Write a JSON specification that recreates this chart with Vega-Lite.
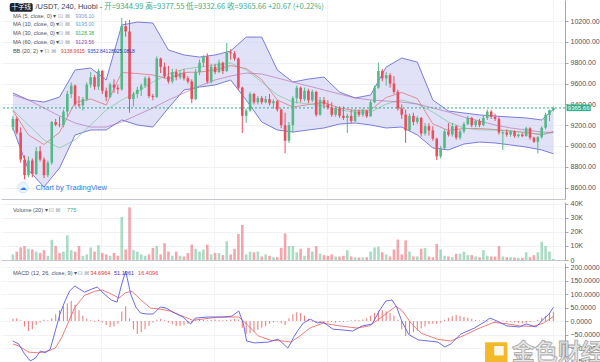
{
"$schema":"https://vega.github.io/schema/vega-lite/v6.json",
"padding":0,
"spacing":0,
"background":"white",
"config":{"view":{"stroke":null},"axis":{"labelFont":"Liberation Sans","labelFontSize":7,"labelColor":"#4c525e","domainColor":"#a3a6af","tickColor":"#a3a6af","tickSize":3,"labelPadding":2,"gridColor":"#f0f2f7","title":null,"labelOverlap":false},"text":{"font":"Liberation Sans"}},
"datasets":{
"k":[
{"i":0,"o":9180,"h":9290,"l":9150,"c":9260,"v":4000,"g":8},
{"i":1,"o":9260,"h":9280,"l":9110,"c":9130,"v":6000,"g":10},
{"i":2,"o":9130,"h":9180,"l":8840,"c":8870,"v":9000,"g":3},
{"i":3,"o":8870,"h":8910,"l":8680,"c":8720,"v":10000,"g":-20},
{"i":4,"o":8720,"h":8900,"l":8700,"c":8860,"v":8000,"g":-37},
{"i":5,"o":8860,"h":8880,"l":8700,"c":8730,"v":7500,"g":-30},
{"i":6,"o":8730,"h":8990,"l":8720,"c":8950,"v":6000,"g":-15},
{"i":7,"o":8950,"h":9000,"l":8850,"c":8870,"v":5000,"g":-5},
{"i":8,"o":8870,"h":8890,"l":8690,"c":8720,"v":7000,"g":5},
{"i":9,"o":8720,"h":8860,"l":8700,"c":8840,"v":3000,"g":3},
{"i":10,"o":8840,"h":9240,"l":8820,"c":9230,"v":14500,"g":10},
{"i":11,"o":9230,"h":9260,"l":9190,"c":9205,"v":10000,"g":25},
{"i":12,"o":9205,"h":9280,"l":9180,"c":9200,"v":5000,"g":40},
{"i":13,"o":9200,"h":9350,"l":9180,"c":9330,"v":6000,"g":55},
{"i":14,"o":9330,"h":9530,"l":9280,"c":9500,"v":17600,"g":65},
{"i":15,"o":9500,"h":9610,"l":9460,"c":9580,"v":7000,"g":74},
{"i":16,"o":9580,"h":9590,"l":9380,"c":9400,"v":6000,"g":60},
{"i":17,"o":9400,"h":9480,"l":9370,"c":9390,"v":10000,"g":40},
{"i":18,"o":9390,"h":9470,"l":9340,"c":9450,"v":3000,"g":20},
{"i":19,"o":9450,"h":9610,"l":9430,"c":9590,"v":4000,"g":8},
{"i":20,"o":9590,"h":9710,"l":9560,"c":9660,"v":9000,"g":3},
{"i":21,"o":9660,"h":9680,"l":9540,"c":9570,"v":6000,"g":-3},
{"i":22,"o":9570,"h":9740,"l":9540,"c":9720,"v":10500,"g":5},
{"i":23,"o":9720,"h":9730,"l":9500,"c":9530,"v":5000,"g":-5},
{"i":24,"o":9530,"h":9560,"l":9430,"c":9470,"v":4000,"g":-15},
{"i":25,"o":9470,"h":9610,"l":9460,"c":9590,"v":3000,"g":-22},
{"i":26,"o":9590,"h":9640,"l":9510,"c":9560,"v":5000,"g":-20},
{"i":27,"o":9560,"h":9590,"l":9500,"c":9545,"v":3000,"g":-10},
{"i":28,"o":9545,"h":10230,"l":9530,"c":10150,"v":30600,"g":35},
{"i":29,"o":10150,"h":10200,"l":10050,"c":10100,"v":7500,"g":55},
{"i":30,"o":10100,"h":10210,"l":9320,"c":9450,"v":37600,"g":10},
{"i":31,"o":9450,"h":9520,"l":9380,"c":9500,"v":7000,"g":-30},
{"i":32,"o":9500,"h":9570,"l":9460,"c":9540,"v":6000,"g":-48},
{"i":33,"o":9540,"h":9600,"l":9480,"c":9580,"v":4000,"g":-42},
{"i":34,"o":9580,"h":9670,"l":9560,"c":9650,"v":3000,"g":-30},
{"i":35,"o":9650,"h":9670,"l":9460,"c":9480,"v":4000,"g":-18},
{"i":36,"o":9480,"h":9500,"l":9440,"c":9470,"v":8700,"g":-5},
{"i":37,"o":9470,"h":9860,"l":9460,"c":9840,"v":10000,"g":5},
{"i":38,"o":9840,"h":9850,"l":9700,"c":9760,"v":4000,"g":8},
{"i":39,"o":9760,"h":9800,"l":9650,"c":9670,"v":12000,"g":3},
{"i":40,"o":9670,"h":9770,"l":9600,"c":9620,"v":6000,"g":-5},
{"i":41,"o":9620,"h":9740,"l":9600,"c":9710,"v":3000,"g":-12},
{"i":42,"o":9710,"h":9740,"l":9630,"c":9660,"v":6000,"g":-18},
{"i":43,"o":9660,"h":9730,"l":9640,"c":9700,"v":3000,"g":-18},
{"i":44,"o":9700,"h":9740,"l":9630,"c":9650,"v":2500,"g":-15},
{"i":45,"o":9650,"h":9670,"l":9600,"c":9620,"v":5000,"g":-10},
{"i":46,"o":9620,"h":9640,"l":9410,"c":9450,"v":11000,"g":-5},
{"i":47,"o":9450,"h":9740,"l":9440,"c":9710,"v":8000,"g":5},
{"i":48,"o":9710,"h":9830,"l":9680,"c":9800,"v":6000,"g":8},
{"i":49,"o":9800,"h":9870,"l":9760,"c":9860,"v":7500,"g":5},
{"i":50,"o":9860,"h":9890,"l":9600,"c":9620,"v":11000,"g":3},
{"i":51,"o":9620,"h":9790,"l":9600,"c":9760,"v":4000,"g":4},
{"i":52,"o":9760,"h":9790,"l":9690,"c":9710,"v":5000,"g":6},
{"i":53,"o":9710,"h":9830,"l":9700,"c":9800,"v":5000,"g":5},
{"i":54,"o":9800,"h":9810,"l":9690,"c":9720,"v":3500,"g":3},
{"i":55,"o":9720,"h":9990,"l":9710,"c":9900,"v":13400,"g":4},
{"i":56,"o":9900,"h":9930,"l":9830,"c":9890,"v":4000,"g":6},
{"i":57,"o":9890,"h":9910,"l":9820,"c":9840,"v":8000,"g":8},
{"i":58,"o":9840,"h":9850,"l":9540,"c":9560,"v":18600,"g":5},
{"i":59,"o":9560,"h":9570,"l":9125,"c":9290,"v":25000,"g":-25},
{"i":60,"o":9290,"h":9360,"l":9220,"c":9340,"v":4000,"g":-48},
{"i":61,"o":9340,"h":9520,"l":9330,"c":9500,"v":6000,"g":-45},
{"i":62,"o":9500,"h":9510,"l":9400,"c":9420,"v":5500,"g":-40},
{"i":63,"o":9420,"h":9480,"l":9400,"c":9460,"v":6000,"g":-32},
{"i":64,"o":9460,"h":9480,"l":9400,"c":9420,"v":2500,"g":-25},
{"i":65,"o":9420,"h":9480,"l":9410,"c":9450,"v":4000,"g":-18},
{"i":66,"o":9450,"h":9500,"l":9390,"c":9410,"v":3000,"g":-10},
{"i":67,"o":9410,"h":9450,"l":9360,"c":9430,"v":2000,"g":-5},
{"i":68,"o":9430,"h":9440,"l":9330,"c":9350,"v":2000,"g":-3},
{"i":69,"o":9350,"h":9360,"l":9170,"c":9200,"v":8700,"g":-8},
{"i":70,"o":9200,"h":9320,"l":8930,"c":9050,"v":19000,"g":-15},
{"i":71,"o":9050,"h":9230,"l":9030,"c":9200,"v":10000,"g":10},
{"i":72,"o":9200,"h":9480,"l":9130,"c":9460,"v":10000,"g":25},
{"i":73,"o":9460,"h":9580,"l":9410,"c":9560,"v":5500,"g":33},
{"i":74,"o":9560,"h":9570,"l":9420,"c":9450,"v":8000,"g":30},
{"i":75,"o":9450,"h":9560,"l":9430,"c":9530,"v":3000,"g":20},
{"i":76,"o":9530,"h":9550,"l":9410,"c":9440,"v":8700,"g":8},
{"i":77,"o":9440,"h":9540,"l":9420,"c":9520,"v":6000,"g":-3},
{"i":78,"o":9520,"h":9530,"l":9280,"c":9300,"v":10000,"g":-5},
{"i":79,"o":9300,"h":9470,"l":9290,"c":9440,"v":4500,"g":-5},
{"i":80,"o":9440,"h":9470,"l":9370,"c":9400,"v":3500,"g":-6},
{"i":81,"o":9400,"h":9440,"l":9350,"c":9370,"v":3000,"g":-5},
{"i":82,"o":9370,"h":9420,"l":9280,"c":9300,"v":4000,"g":-4},
{"i":83,"o":9300,"h":9380,"l":9280,"c":9360,"v":2500,"g":-5},
{"i":84,"o":9360,"h":9380,"l":9270,"c":9290,"v":2500,"g":-3},
{"i":85,"o":9290,"h":9380,"l":9250,"c":9270,"v":3000,"g":-4},
{"i":86,"o":9270,"h":9310,"l":9125,"c":9290,"v":7000,"g":-3},
{"i":87,"o":9290,"h":9350,"l":9220,"c":9240,"v":2500,"g":3},
{"i":88,"o":9240,"h":9360,"l":9230,"c":9330,"v":2000,"g":5},
{"i":89,"o":9330,"h":9350,"l":9280,"c":9300,"v":1800,"g":4},
{"i":90,"o":9300,"h":9360,"l":9280,"c":9340,"v":1800,"g":6},
{"i":91,"o":9340,"h":9345,"l":9270,"c":9285,"v":2000,"g":10},
{"i":92,"o":9285,"h":9440,"l":9280,"c":9420,"v":6000,"g":20},
{"i":93,"o":9420,"h":9580,"l":9410,"c":9560,"v":9000,"g":30},
{"i":94,"o":9560,"h":9800,"l":9550,"c":9720,"v":9500,"g":38},
{"i":95,"o":9720,"h":9740,"l":9620,"c":9650,"v":5500,"g":40},
{"i":96,"o":9650,"h":9710,"l":9580,"c":9680,"v":4000,"g":36},
{"i":97,"o":9680,"h":9700,"l":9560,"c":9600,"v":2500,"g":30},
{"i":98,"o":9600,"h":9670,"l":9500,"c":9520,"v":7500,"g":20},
{"i":99,"o":9520,"h":9540,"l":9340,"c":9360,"v":14600,"g":5},
{"i":100,"o":9360,"h":9400,"l":9260,"c":9300,"v":4000,"g":-30},
{"i":101,"o":9300,"h":9350,"l":9030,"c":9150,"v":14000,"g":-55},
{"i":102,"o":9150,"h":9310,"l":9140,"c":9290,"v":6000,"g":-50},
{"i":103,"o":9290,"h":9320,"l":9200,"c":9230,"v":2500,"g":-42},
{"i":104,"o":9230,"h":9290,"l":9210,"c":9270,"v":2500,"g":-35},
{"i":105,"o":9270,"h":9280,"l":9090,"c":9120,"v":8000,"g":-28},
{"i":106,"o":9120,"h":9220,"l":9100,"c":9190,"v":8500,"g":-20},
{"i":107,"o":9190,"h":9220,"l":9100,"c":9150,"v":2500,"g":-12},
{"i":108,"o":9150,"h":9190,"l":9050,"c":9070,"v":2000,"g":-10},
{"i":109,"o":9070,"h":9080,"l":8865,"c":8900,"v":11500,"g":-10},
{"i":110,"o":8900,"h":9000,"l":8880,"c":8980,"v":7500,"g":-6},
{"i":111,"o":8980,"h":9160,"l":8970,"c":9140,"v":3000,"g":5},
{"i":112,"o":9140,"h":9220,"l":9090,"c":9110,"v":2500,"g":12},
{"i":113,"o":9110,"h":9220,"l":9090,"c":9190,"v":2000,"g":18},
{"i":114,"o":9190,"h":9200,"l":9060,"c":9080,"v":4500,"g":22},
{"i":115,"o":9080,"h":9160,"l":9060,"c":9140,"v":4500,"g":20},
{"i":116,"o":9140,"h":9230,"l":9120,"c":9210,"v":6000,"g":16},
{"i":117,"o":9210,"h":9290,"l":9200,"c":9270,"v":3500,"g":12},
{"i":118,"o":9270,"h":9280,"l":9180,"c":9200,"v":3500,"g":8},
{"i":119,"o":9200,"h":9250,"l":9180,"c":9240,"v":2500,"g":4},
{"i":120,"o":9240,"h":9260,"l":9180,"c":9200,"v":2000,"g":2},
{"i":121,"o":9200,"h":9290,"l":9190,"c":9270,"v":7000,"g":3},
{"i":122,"o":9270,"h":9350,"l":9250,"c":9330,"v":3000,"g":-2},
{"i":123,"o":9330,"h":9345,"l":9260,"c":9280,"v":2500,"g":2},
{"i":124,"o":9280,"h":9310,"l":9240,"c":9260,"v":2500,"g":-3},
{"i":125,"o":9260,"h":9280,"l":9110,"c":9130,"v":10000,"g":-2},
{"i":126,"o":9120,"h":9150,"l":8960,"c":9130,"v":2500,"g":2},
{"i":127,"o":9130,"h":9160,"l":9090,"c":9110,"v":2000,"g":-3},
{"i":128,"o":9110,"h":9150,"l":9090,"c":9140,"v":2000,"g":-4},
{"i":129,"o":9140,"h":9150,"l":9080,"c":9095,"v":1800,"g":-5},
{"i":130,"o":9095,"h":9120,"l":9080,"c":9110,"v":1500,"g":-6},
{"i":131,"o":9110,"h":9125,"l":9085,"c":9095,"v":1500,"g":-8},
{"i":132,"o":9095,"h":9185,"l":9090,"c":9170,"v":5500,"g":-6},
{"i":133,"o":9170,"h":9180,"l":9060,"c":9080,"v":2000,"g":-4},
{"i":134,"o":9080,"h":9090,"l":9030,"c":9040,"v":3500,"g":-2},
{"i":135,"o":9040,"h":9095,"l":8930,"c":9085,"v":5500,"g":5},
{"i":136,"o":9085,"h":9190,"l":9070,"c":9175,"v":13000,"g":12},
{"i":137,"o":9175,"h":9320,"l":9160,"c":9300,"v":10000,"g":20},
{"i":138,"o":9300,"h":9350,"l":9240,"c":9345,"v":6000,"g":28},
{"i":139,"o":9344.99,"h":9377.55,"l":9332.66,"c":9365.66,"v":775,"g":34.6964}
],
"bb":[
{"i":0,"u":9509,"lo":9173,"m":9341,"a30":9346,"a60":9490},
{"i":4,"u":9442,"lo":8770,"m":9106,"a30":9202,"a60":9442},
{"i":8,"u":9422,"lo":8606,"m":9014,"a30":9058,"a60":9365},
{"i":12,"u":9470,"lo":8789,"m":9130,"a30":8981,"a60":9288},
{"i":16,"u":9730,"lo":9106,"m":9418,"a30":9058,"a60":9221},
{"i":20,"u":9749,"lo":9154,"m":9452,"a30":9202,"a60":9182},
{"i":24,"u":9634,"lo":9154,"m":9394,"a30":9346,"a60":9182},
{"i":28,"u":10162,"lo":9250,"m":9706,"a30":9442,"a60":9230},
{"i":32,"u":10190,"lo":9202,"m":9696,"a30":9518,"a60":9298},
{"i":36,"u":10181,"lo":9182,"m":9682,"a30":9614,"a60":9365},
{"i":40,"u":9922,"lo":9365,"m":9644,"a30":9691,"a60":9442},
{"i":44,"u":9874,"lo":9538,"m":9706,"a30":9739,"a60":9509},
{"i":48,"u":9854,"lo":9566,"m":9710,"a30":9758,"a60":9576},
{"i":52,"u":9874,"lo":9586,"m":9730,"a30":9778,"a60":9634},
{"i":56,"u":9912,"lo":9634,"m":9773,"a30":9797,"a60":9672},
{"i":60,"u":10046,"lo":9442,"m":9744,"a30":9730,"a60":9701},
{"i":64,"u":10046,"lo":9230,"m":9638,"a30":9614,"a60":9691},
{"i":68,"u":9730,"lo":9154,"m":9442,"a30":9490,"a60":9653},
{"i":72,"u":9614,"lo":9134,"m":9374,"a30":9422,"a60":9614},
{"i":76,"u":9643,"lo":9154,"m":9398,"a30":9403,"a60":9576},
{"i":80,"u":9662,"lo":9173,"m":9418,"a30":9384,"a60":9538},
{"i":84,"u":9518,"lo":9211,"m":9365,"a30":9346,"a60":9499},
{"i":88,"u":9461,"lo":9221,"m":9341,"a30":9326,"a60":9461},
{"i":92,"u":9490,"lo":9202,"m":9346,"a30":9326,"a60":9442},
{"i":96,"u":9758,"lo":9173,"m":9466,"a30":9403,"a60":9432},
{"i":100,"u":9845,"lo":9182,"m":9514,"a30":9442,"a60":9422},
{"i":104,"u":9806,"lo":9106,"m":9456,"a30":9403,"a60":9403},
{"i":108,"u":9442,"lo":8981,"m":9212,"a30":9326,"a60":9365},
{"i":112,"u":9336,"lo":8962,"m":9149,"a30":9230,"a60":9326},
{"i":116,"u":9317,"lo":9019,"m":9168,"a30":9173,"a60":9278},
{"i":120,"u":9298,"lo":9038,"m":9168,"a30":9154,"a60":9240},
{"i":124,"u":9288,"lo":9029,"m":9158,"a30":9154,"a60":9202},
{"i":128,"u":9278,"lo":9010,"m":9144,"a30":9144,"a60":9173},
{"i":132,"u":9269,"lo":8990,"m":9130,"a30":9125,"a60":9154},
{"i":136,"u":9250,"lo":8962,"m":9106,"a30":9115,"a60":9134},
{"i":139,"u":9352.84,"lo":8925.08,"m":9138.96,"a30":9128.38,"a60":9129.56}
],
"md":[
{"i":0,"m":-74},{"i":1.5,"m":-85},{"i":3,"m":-122},{"i":4.5,"m":-148},{"i":5.8,"m":-137},{"i":7.1,"m":-111},{"i":8.3,"m":-118},{"i":9.6,"m":-104},{"i":10.9,"m":-37},{"i":12.1,"m":26},{"i":13.4,"m":74},{"i":14.6,"m":111},{"i":15.9,"m":130},{"i":17.2,"m":118},{"i":18.4,"m":107},{"i":20.2,"m":118},{"i":21.7,"m":126},{"i":23.5,"m":100},{"i":25.3,"m":78},{"i":26.8,"m":70},{"i":28,"m":137},{"i":29,"m":185},{"i":30.3,"m":100},{"i":31.6,"m":52},{"i":32.8,"m":30},{"i":34.3,"m":26},{"i":36.1,"m":26},{"i":37.9,"m":52},{"i":39.4,"m":48},{"i":41.2,"m":33},{"i":43.7,"m":15},{"i":45.7,"m":-11},{"i":46.9,"m":11},{"i":50.5,"m":15},{"i":53.8,"m":15},{"i":56.3,"m":18},{"i":58.1,"m":37},{"i":59.3,"m":-11},{"i":60.1,"m":-74},{"i":62.1,"m":-81},{"i":65.7,"m":-78},{"i":68.2,"m":-67},{"i":70.7,"m":-100},{"i":71.5,"m":-81},{"i":72.2,"m":-60},{"i":73.2,"m":-37},{"i":74.7,"m":-7},{"i":76.5,"m":7},{"i":78.3,"m":-7},{"i":79.8,"m":-4},{"i":82.3,"m":-30},{"i":84.8,"m":-33},{"i":87.4,"m":-37},{"i":89.9,"m":-18},{"i":92.4,"m":-11},{"i":94.2,"m":37},{"i":95.9,"m":74},{"i":97.5,"m":78},{"i":98.7,"m":52},{"i":100,"m":0},{"i":101.8,"m":-50},{"i":104.3,"m":-70},{"i":106.8,"m":-74},{"i":109.3,"m":-78},{"i":111.1,"m":-96},{"i":112.6,"m":-85},{"i":115.2,"m":-48},{"i":118.7,"m":-26},{"i":121.2,"m":-4},{"i":122.7,"m":11},{"i":124.5,"m":0},{"i":127,"m":-18},{"i":130.3,"m":-22},{"i":132,"m":-11},{"i":134.6,"m":-22},{"i":136.4,"m":7},{"i":137.9,"m":26},{"i":139,"m":51.1061}
],
"sg":[
{"i":0,"s":-85},{"i":1.5,"s":-92},{"i":4,"s":-115},{"i":6.6,"s":-118},{"i":9.1,"s":-111},{"i":10.9,"s":-100},{"i":12.6,"s":-60},{"i":14.1,"s":-10},{"i":15.9,"s":50},{"i":18.4,"s":95},{"i":21,"s":110},{"i":23,"s":115},{"i":25.3,"s":100},{"i":27.3,"s":85},{"i":29,"s":105},{"i":30.6,"s":110},{"i":32.8,"s":80},{"i":35.4,"s":48},{"i":37.9,"s":44},{"i":40.4,"s":37},{"i":43.7,"s":18},{"i":46.2,"s":3},{"i":48.7,"s":7},{"i":52.5,"s":14},{"i":58.1,"s":15},{"i":60.6,"s":-18},{"i":63.1,"s":-55},{"i":66.4,"s":-72},{"i":69.7,"s":-74},{"i":71.5,"s":-78},{"i":74,"s":-53},{"i":76.5,"s":-25},{"i":79.8,"s":-8},{"i":84.1,"s":-18},{"i":88.4,"s":-26},{"i":91.7,"s":-18},{"i":94.9,"s":15},{"i":98.5,"s":55},{"i":100,"s":40},{"i":102.5,"s":-10},{"i":105,"s":-45},{"i":109.3,"s":-68},{"i":112.6,"s":-74},{"i":116.2,"s":-52},{"i":119.4,"s":-30},{"i":123.7,"s":-5},{"i":127,"s":-10},{"i":130.3,"s":-18},{"i":133.8,"s":-20},{"i":136.4,"s":-8},{"i":139,"s":16.4096}
]
},
"vconcat":[
{
"width":564,"height":199,
"layer":[
{"data":{"name":"bb"},"mark":{"type":"area","color":"#c9caf0","opacity":0.55},
 "encoding":{"x":{"field":"i","type":"quantitative","scale":{"domain":[-1.77,140.7],"nice":false,"zero":false},"axis":{"orient":"bottom","labels":false,"ticks":false,"domain":true,"domainColor":"#c4c7ce","grid":true,"gridColor":"#f2f3f7","values":[22.7,51.8,80.8,109.8,138.9],"tickCount":10,"title":null}},
 "y":{"field":"u","type":"quantitative","scale":{"domain":[8491,10402],"nice":false,"zero":false},"axis":{"orient":"right","values":[8600,8800,9000,9200,9400,9600,9800,10000,10200],"tickCount":12,"format":".2f","grid":true,"labelOverlap":false,"title":null}},
 "y2":{"field":"lo"}}},
{"data":{"name":"bb"},"mark":{"type":"line","color":"#6d6fd6","strokeWidth":0.9},"encoding":{"x":{"field":"i","type":"quantitative"},"y":{"field":"u","type":"quantitative","title":null}}},
{"data":{"name":"bb"},"mark":{"type":"line","color":"#6d6fd6","strokeWidth":0.9},"encoding":{"x":{"field":"i","type":"quantitative"},"y":{"field":"lo","type":"quantitative","title":null}}},
{"data":{"name":"bb"},"mark":{"type":"line","color":"#e0626a","strokeWidth":0.8,"opacity":0.85},"encoding":{"x":{"field":"i","type":"quantitative"},"y":{"field":"m","type":"quantitative","title":null}}},
{"data":{"name":"bb"},"mark":{"type":"line","color":"#7cc79a","strokeWidth":0.8,"opacity":0.9},"encoding":{"x":{"field":"i","type":"quantitative"},"y":{"field":"a30","type":"quantitative","title":null}}},
{"data":{"name":"bb"},"mark":{"type":"line","color":"#b569b3","strokeWidth":0.8,"opacity":0.8},"encoding":{"x":{"field":"i","type":"quantitative"},"y":{"field":"a60","type":"quantitative","title":null}}},
{"data":{"values":[{}]},"mark":{"type":"rule","color":"#2fae8a","strokeDash":[2,2],"strokeWidth":1},"encoding":{"y":{"datum":9365.66,"type":"quantitative"}}},
{"data":{"name":"k"},"mark":{"type":"rule","strokeWidth":1},"encoding":{"x":{"field":"i","type":"quantitative"},"y":{"field":"l","type":"quantitative","title":null},"y2":{"field":"h"},"color":{"condition":{"test":"datum.c >= datum.o","value":"#53b987"},"value":"#eb4d5c"}}},
{"data":{"name":"k"},"mark":{"type":"bar","size":2.6},"encoding":{"x":{"field":"i","type":"quantitative"},"y":{"field":"o","type":"quantitative","title":null},"y2":{"field":"c"},"color":{"condition":{"test":"datum.c >= datum.o","value":"#53b987"},"value":"#eb4d5c"}}},
{"data":{"values":[{}]},"mark":{"type":"rect","color":"#1e222d","cornerRadius":2},"encoding":{"x":{"datum":-0.8,"type":"quantitative"},"x2":{"datum":5.1},"y":{"datum":10373,"type":"quantitative"},"y2":{"datum":10290}}},
{"data":{"values":[{}]},"mark":{"type":"text","text":"十字线","align":"center","baseline":"middle","fontSize":6.5,"color":"#ffffff","font":"Noto Sans CJK SC"},"encoding":{"x":{"datum":2.15,"type":"quantitative"},"y":{"datum":10332,"type":"quantitative"}}},
{"data":{"values":[{}]},"mark":{"type":"text","text":"/USDT, 240, Huobi -","align":"left","baseline":"middle","fontSize":7.5,"color":"#3d4250"},"encoding":{"x":{"datum":5.8,"type":"quantitative"},"y":{"datum":10330,"type":"quantitative"}}},
{"data":{"values":[{}]},"mark":{"type":"text","text":"开=9344.99  高=9377.55  低=9332.66  收=9365.66  +20.67 (+0.22%)","align":"left","baseline":"middle","fontSize":7.6,"color":"#3fae82","font":"Noto Sans CJK SC"},"encoding":{"x":{"datum":23.5,"type":"quantitative"},"y":{"datum":10330,"type":"quantitative"}}},
{"data":{"values":[{}]},"mark":{"type":"text","text":"MA (5, close, 0) ▾","align":"left","baseline":"middle","fontSize":5.6,"color":"#50535e"},"encoding":{"x":{"datum":0,"type":"quantitative"},"y":{"datum":10251,"type":"quantitative"}}},
{"data":{"values":[{}]},"mark":{"type":"text","text":"⊡ ⊠","align":"left","baseline":"middle","fontSize":6,"color":"#9a9ca5","font":"DejaVu Sans"},"encoding":{"x":{"datum":11.6,"type":"quantitative"},"y":{"datum":10251,"type":"quantitative"}}},
{"data":{"values":[{}]},"mark":{"type":"text","text":"9306.10","align":"left","baseline":"middle","fontSize":5.2,"color":"#8f8fcf"},"encoding":{"x":{"datum":16.1,"type":"quantitative"},"y":{"datum":10251,"type":"quantitative"}}},
{"data":{"values":[{}]},"mark":{"type":"text","text":"MA (10, close, 0) ▾","align":"left","baseline":"middle","fontSize":5.6,"color":"#50535e"},"encoding":{"x":{"datum":0,"type":"quantitative"},"y":{"datum":10168,"type":"quantitative"}}},
{"data":{"values":[{}]},"mark":{"type":"text","text":"⊡ ⊠","align":"left","baseline":"middle","fontSize":6,"color":"#9a9ca5","font":"DejaVu Sans"},"encoding":{"x":{"datum":11.6,"type":"quantitative"},"y":{"datum":10168,"type":"quantitative"}}},
{"data":{"values":[{}]},"mark":{"type":"text","text":"9195.00","align":"left","baseline":"middle","fontSize":5.2,"color":"#6c9fd8"},"encoding":{"x":{"datum":16.1,"type":"quantitative"},"y":{"datum":10168,"type":"quantitative"}}},
{"data":{"values":[{}]},"mark":{"type":"text","text":"MA (30, close, 0) ▾","align":"left","baseline":"middle","fontSize":5.6,"color":"#50535e"},"encoding":{"x":{"datum":0,"type":"quantitative"},"y":{"datum":10085,"type":"quantitative"}}},
{"data":{"values":[{}]},"mark":{"type":"text","text":"⊡ ⊠","align":"left","baseline":"middle","fontSize":6,"color":"#9a9ca5","font":"DejaVu Sans"},"encoding":{"x":{"datum":11.6,"type":"quantitative"},"y":{"datum":10085,"type":"quantitative"}}},
{"data":{"values":[{}]},"mark":{"type":"text","text":"9128.38","align":"left","baseline":"middle","fontSize":5.2,"color":"#4caf50"},"encoding":{"x":{"datum":16.1,"type":"quantitative"},"y":{"datum":10085,"type":"quantitative"}}},
{"data":{"values":[{}]},"mark":{"type":"text","text":"MA (60, close, 0) ▾","align":"left","baseline":"middle","fontSize":5.6,"color":"#50535e"},"encoding":{"x":{"datum":0,"type":"quantitative"},"y":{"datum":9998,"type":"quantitative"}}},
{"data":{"values":[{}]},"mark":{"type":"text","text":"⊡ ⊠","align":"left","baseline":"middle","fontSize":6,"color":"#9a9ca5","font":"DejaVu Sans"},"encoding":{"x":{"datum":11.6,"type":"quantitative"},"y":{"datum":9998,"type":"quantitative"}}},
{"data":{"values":[{}]},"mark":{"type":"text","text":"9129.56","align":"left","baseline":"middle","fontSize":5.2,"color":"#a4479f"},"encoding":{"x":{"datum":16.1,"type":"quantitative"},"y":{"datum":9998,"type":"quantitative"}}},
{"data":{"values":[{}]},"mark":{"type":"text","text":"BB (20, 2) ▾","align":"left","baseline":"middle","fontSize":5.6,"color":"#50535e"},"encoding":{"x":{"datum":0,"type":"quantitative"},"y":{"datum":9915,"type":"quantitative"}}},
{"data":{"values":[{}]},"mark":{"type":"text","text":"⊡ ⊠","align":"left","baseline":"middle","fontSize":6,"color":"#9a9ca5","font":"DejaVu Sans"},"encoding":{"x":{"datum":8.1,"type":"quantitative"},"y":{"datum":9915,"type":"quantitative"}}},
{"data":{"values":[{}]},"mark":{"type":"text","text":"9138.9615","align":"left","baseline":"middle","fontSize":5,"color":"#e53935"},"encoding":{"x":{"datum":12.4,"type":"quantitative"},"y":{"datum":9915,"type":"quantitative"}}},
{"data":{"values":[{}]},"mark":{"type":"text","text":"9352.8412","align":"left","baseline":"middle","fontSize":5,"color":"#3240c8"},"encoding":{"x":{"datum":19.2,"type":"quantitative"},"y":{"datum":9915,"type":"quantitative"}}},
{"data":{"values":[{}]},"mark":{"type":"text","text":"8925.0818","align":"left","baseline":"middle","fontSize":5,"color":"#2a35a0"},"encoding":{"x":{"datum":25.3,"type":"quantitative"},"y":{"datum":9915,"type":"quantitative"}}},
{"data":{"values":[{}]},"mark":{"type":"point","shape":"circle","size":110,"filled":true,"color":"#e3f0fd","stroke":"#bcd9f7","strokeWidth":1},"encoding":{"x":{"datum":2.6,"type":"quantitative"},"y":{"datum":8600,"type":"quantitative"}}},
{"data":{"values":[{}]},"mark":{"type":"text","text":"☁","align":"center","baseline":"middle","fontSize":7,"color":"#2f7fe0","font":"DejaVu Sans"},"encoding":{"x":{"datum":2.6,"type":"quantitative"},"y":{"datum":8600,"type":"quantitative"}}},
{"data":{"values":[{}]},"mark":{"type":"text","text":"Chart by TradingView","align":"left","baseline":"middle","fontSize":7.5,"color":"#2e7be6"},"encoding":{"x":{"datum":5.8,"type":"quantitative"},"y":{"datum":8597,"type":"quantitative"}}},
{"data":{"values":[{}]},"mark":{"type":"rect","color":"#2fae8a"},"encoding":{"x":{"datum":142.4,"type":"quantitative"},"x2":{"datum":148.6},"y":{"datum":9398,"type":"quantitative"},"y2":{"datum":9335}}},
{"data":{"values":[{}]},"mark":{"type":"text","text":"9365.66","align":"center","baseline":"middle","fontSize":6,"color":"#ffffff"},"encoding":{"x":{"datum":145.5,"type":"quantitative"},"y":{"datum":9366,"type":"quantitative"}}}
]
},
{
"width":564,"height":58,
"layer":[
{"data":{"name":"k"},"mark":{"type":"bar","size":2.6,"opacity":0.5},
 "encoding":{"x":{"field":"i","type":"quantitative","scale":{"domain":[-1.77,140.7],"nice":false,"zero":false},"axis":{"orient":"bottom","labels":false,"ticks":false,"domain":true,"domainColor":"#c4c7ce","grid":true,"gridColor":"#f2f3f7","values":[22.7,51.8,80.8,109.8,138.9],"tickCount":10,"title":null}},
 "y":{"field":"v","type":"quantitative","scale":{"domain":[0,41400],"nice":false},"axis":{"orient":"right","values":[0,10000,20000,30000,40000],"tickCount":12,"labelExpr":"datum.value == 0 ? '0' : (datum.value/1000) + 'K'","grid":true,"labelOverlap":false,"title":null}},
 "color":{"condition":{"test":"datum.c >= datum.o","value":"#53b987"},"value":"#eb4d5c"}}},
{"data":{"values":[{}]},"mark":{"type":"text","text":"Volume (20) ▾","align":"left","baseline":"middle","fontSize":5.6,"color":"#50535e"},"encoding":{"x":{"datum":0,"type":"quantitative"},"y":{"datum":35690,"type":"quantitative"}}},
{"data":{"values":[{}]},"mark":{"type":"text","text":"⊡ ⊠","align":"left","baseline":"middle","fontSize":6,"color":"#9a9ca5","font":"DejaVu Sans"},"encoding":{"x":{"datum":9.2,"type":"quantitative"},"y":{"datum":35690,"type":"quantitative"}}},
{"data":{"values":[{}]},"mark":{"type":"text","text":"775","align":"left","baseline":"middle","fontSize":5.6,"color":"#3fae82"},"encoding":{"x":{"datum":13.9,"type":"quantitative"},"y":{"datum":35690,"type":"quantitative"}}}
]
},
{
"width":564,"height":105,
"layer":[
{"data":{"name":"k"},"mark":{"type":"bar","size":1.1,"color":"#ec8080"},
 "encoding":{"x":{"field":"i","type":"quantitative","scale":{"domain":[-1.77,140.7],"nice":false,"zero":false},"axis":{"orient":"bottom","labels":false,"ticks":false,"domain":true,"domainColor":"#c4c7ce","grid":true,"gridColor":"#f2f3f7","values":[22.7,51.8,80.8,109.8,138.9],"tickCount":10,"title":null}},
 "y":{"field":"g","type":"quantitative","scale":{"domain":[-174,215],"nice":false,"zero":false},"axis":{"orient":"right","values":[-150,-100,-50,0,50,100,150,200],"tickCount":12,"format":".4f","grid":true,"labelOverlap":false,"title":null}},
 "y2":{"datum":0}}},
{"data":{"name":"sg"},"mark":{"type":"line","color":"#ef6b6b","strokeWidth":0.9},"encoding":{"x":{"field":"i","type":"quantitative"},"y":{"field":"s","type":"quantitative","title":null}}},
{"data":{"name":"md"},"mark":{"type":"line","color":"#5b5be6","strokeWidth":0.9},"encoding":{"x":{"field":"i","type":"quantitative"},"y":{"field":"m","type":"quantitative","title":null}}},
{"data":{"values":[{}]},"mark":{"type":"text","text":"MACD (12, 26, close, 9) ▾","align":"left","baseline":"middle","fontSize":5.6,"color":"#50535e"},"encoding":{"x":{"datum":0,"type":"quantitative"},"y":{"datum":178,"type":"quantitative"}}},
{"data":{"values":[{}]},"mark":{"type":"text","text":"⊡ ⊠","align":"left","baseline":"middle","fontSize":6,"color":"#9a9ca5","font":"DejaVu Sans"},"encoding":{"x":{"datum":16.6,"type":"quantitative"},"y":{"datum":178,"type":"quantitative"}}},
{"data":{"values":[{}]},"mark":{"type":"text","text":"34.6964","align":"left","baseline":"middle","fontSize":5.6,"color":"#e53935"},"encoding":{"x":{"datum":19.9,"type":"quantitative"},"y":{"datum":178,"type":"quantitative"}}},
{"data":{"values":[{}]},"mark":{"type":"text","text":"51.1061","align":"left","baseline":"middle","fontSize":5.6,"color":"#3240c8"},"encoding":{"x":{"datum":26,"type":"quantitative"},"y":{"datum":178,"type":"quantitative"}}},
{"data":{"values":[{}]},"mark":{"type":"text","text":"16.4096","align":"left","baseline":"middle","fontSize":5.6,"color":"#e53935"},"encoding":{"x":{"datum":32.2,"type":"quantitative"},"y":{"datum":178,"type":"quantitative"}}},
{"data":{"values":[{}]},"mark":{"type":"point","shape":"square","size":500,"filled":true,"color":"#f2b51d","opacity":0.95},"encoding":{"x":{"datum":124.3,"type":"quantitative"},"y":{"datum":-120,"type":"quantitative"}}},
{"data":{"values":[{}]},"mark":{"type":"point","shape":"square","size":90,"filled":true,"color":"#ffffff","opacity":0.9},"encoding":{"x":{"datum":125,"type":"quantitative"},"y":{"datum":-110,"type":"quantitative"}}},
{"data":{"values":[{}]},"mark":{"type":"text","text":"金色财经","align":"left","baseline":"middle","fontSize":23,"fontWeight":"bold","color":"#e4e4e4","stroke":"#9e9e9e","strokeWidth":0.8,"opacity":0.9,"font":"Noto Sans CJK SC"},"encoding":{"x":{"datum":128.3,"type":"quantitative"},"y":{"datum":-120,"type":"quantitative"}}}
]
}
]
}
